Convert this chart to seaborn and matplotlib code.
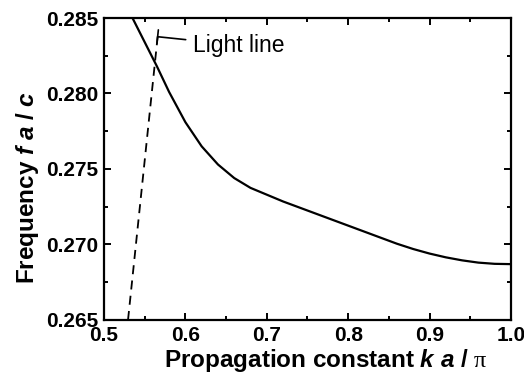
import matplotlib
matplotlib.use("Agg")
import matplotlib.pyplot as plt
import seaborn as sns
import pandas as pd
from matplotlib.ticker import MultipleLocator

# Data
k_band = [0.535, 0.550, 0.565, 0.580, 0.600, 0.620, 0.640, 0.660, 0.680, 0.700,
          0.720, 0.740, 0.760, 0.780, 0.800, 0.820, 0.840, 0.860, 0.880, 0.900,
          0.920, 0.940, 0.960, 0.980, 1.000]
f_band = [0.2850, 0.2834, 0.2818, 0.2801, 0.2781, 0.2765, 0.2753, 0.2744, 0.27375, 0.2733,
          0.27285, 0.27245, 0.27205, 0.27165, 0.27125, 0.27085, 0.27045, 0.27005, 0.2697, 0.2694,
          0.26915, 0.26895, 0.2688, 0.26872, 0.2687]
k_light = [0.5295, 0.5659]
f_light = [0.2650, 0.28376]
x_ticks = [0.5, 0.6, 0.7, 0.8, 0.9, 1.0]
y_ticks = [0.265, 0.270, 0.275, 0.280, 0.285]
annot_text = "Light line"

sns.set_theme(style="ticks")
plt.rcParams['font.family'] = ['Liberation Sans', 'DejaVu Sans']
plt.rcParams['text.color'] = 'black'
plt.rcParams['axes.labelcolor'] = 'black'
plt.rcParams['xtick.color'] = 'black'
plt.rcParams['ytick.color'] = 'black'
plt.rcParams['mathtext.fontset'] = 'custom'
plt.rcParams['mathtext.rm'] = 'Liberation Serif'
plt.rcParams['mathtext.it'] = 'Liberation Sans:italic'
plt.rcParams['mathtext.bf'] = 'Liberation Sans:bold'
plt.rcParams['mathtext.bfit'] = 'Liberation Sans:bold:italic'

fig = plt.figure(figsize=(5.24, 3.83), dpi=100)
ax = fig.add_axes([0.1985, 0.1645, 0.7765, 0.7885])

band = pd.DataFrame({"k": k_band, "f": f_band})
light = pd.DataFrame({"k": k_light, "f": f_light})
sns.lineplot(data=band, x="k", y="f", ax=ax, color="black", linewidth=1.6,
             sort=False, estimator=None)
sns.lineplot(data=light, x="k", y="f", ax=ax, color="black", linewidth=1.3,
             sort=False, estimator=None, linestyle=(0, (5, 3.5)))

ax.set_xlim(0.5, 1.0)
ax.set_ylim(0.265, 0.285)
ax.set_xticks(x_ticks)
ax.set_yticks(y_ticks)
ax.set_xticklabels([f"{v:.1f}" for v in x_ticks])
ax.set_yticklabels([f"{v:.3f}" for v in y_ticks])
ax.xaxis.set_minor_locator(MultipleLocator(0.05))
ax.yaxis.set_minor_locator(MultipleLocator(0.0025))
ax.tick_params(which="both", direction="in", top=True, right=True, width=1.4, colors="black")
ax.tick_params(which="major", length=5, labelsize=15)
ax.tick_params(axis="x", which="major", pad=4)
ax.tick_params(axis="y", which="major", pad=4)
ax.tick_params(which="minor", length=3)
for lab in ax.get_xticklabels() + ax.get_yticklabels():
    lab.set_fontweight("bold")
for s in ax.spines.values():
    s.set_linewidth(1.6)
    s.set_color("black")

ax.set_xlabel(r"Propagation constant $\mathbfit{k}\ \mathbfit{a}$ / $\mathrm{\pi}$",
              fontsize=17.5, fontweight="bold")
ax.set_ylabel(r"Frequency $\mathbfit{f}\ \mathbfit{a}$ / $\mathbfit{c}$",
              fontsize=17.5, fontweight="bold")
ax.xaxis.set_label_coords(0.545, -0.09)
ax.yaxis.set_label_coords(-0.155, 0.44)

ax.annotate(annot_text, xy=(0.5659, 0.28376), xytext=(0.6095, 0.2832),
            fontsize=16.5, ha="left", va="center",
            arrowprops=dict(arrowstyle="-[, widthB=0.3, lengthB=0", color="black",
                            linewidth=1.2, shrinkA=3, shrinkB=0))

fig.savefig("out.png", dpi=100)
